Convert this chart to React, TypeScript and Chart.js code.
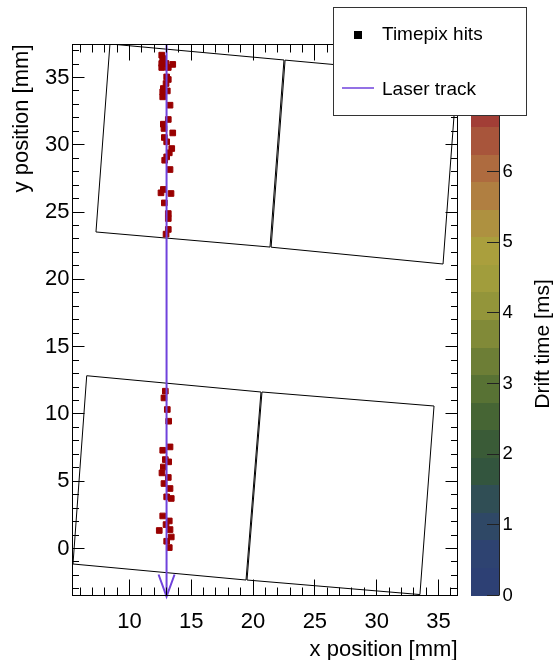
import React, { useEffect, useRef } from 'react';
import { Chart, registerables } from 'chart.js';

Chart.register(...registerables);

// ---- data ----
const xRange = [5.39, 36.54];
const yRange = [-3.49, 37.45];
const driftRange = [0, 7.8];

const xTicks = [10, 15, 20, 25, 30, 35];
const yTicks = [0, 5, 10, 15, 20, 25, 30, 35];
const driftTicks = [0, 1, 2, 3, 4, 5, 6, 7];

const hitX = [
  12.61, 12.69, 12.61, 12.96, 13.5, 12.61, 13.14, 13.01, 13.14, 12.96,
  12.74, 13.06, 12.69, 12.69, 13.28, 13.14, 12.74, 12.79, 13.5, 12.82,
  13.01, 13.42, 13.22, 13.01, 12.85, 13.28, 12.74, 12.55, 13.36, 12.82,
  13.14, 13.14, 13.14, 12.96,
  12.9, 12.79, 13.06, 13.17, 13.28, 12.69, 12.9, 13.17, 12.74, 12.63,
  13.14, 12.79, 13.28, 13.01, 13.38, 12.69, 13.22, 12.96, 12.41, 13.28,
  13.38, 13.01, 13.22,
];
const hitY = [
  36.66, 36.41, 36.04, 36.04, 35.97, 35.74, 35.74, 35.04, 34.85, 34.55,
  34.18, 34.0, 33.93, 33.56, 32.94, 31.88, 31.53, 31.21, 30.88, 30.54,
  30.22, 29.72, 29.4, 29.1, 28.85, 28.16, 26.68, 26.43, 26.38, 25.68,
  24.89, 24.52, 23.71, 23.36,
  11.69, 11.19, 10.33, 9.46, 7.55, 7.3, 6.61, 6.44, 6.06, 5.62,
  5.28, 4.83, 4.46, 3.84, 3.72, 2.42, 2.05, 1.78, 1.34, 1.41,
  0.86, 0.54, 0.07,
];

const laserX = [13.0, 13.0];
const laserY = [37.45, -3.49];

const chipTopLeftX = [7.29, 21.37, 22.5, 8.42, 7.29];
const chipTopLeftY = [23.52, 22.4, 36.3, 37.49, 23.52];
const chipTopRightX = [21.46, 35.37, 36.5, 22.59, 21.46];
const chipTopRightY = [22.39, 21.14, 35.13, 36.29, 22.39];
const chipBottomLeftX = [5.43, 19.43, 20.64, 6.54, 5.43];
const chipBottomLeftY = [-1.15, -2.34, 11.63, 12.84, -1.15];
const chipBottomRightX = [19.51, 33.5, 34.64, 20.72, 19.51];
const chipBottomRightY = [-2.34, -3.42, 10.59, 11.63, -2.34];

const paletteColors = [
  '#2d4074', '#2e4371', '#2f4866', '#304e55', '#33553e',
  '#3a5b37', '#466534', '#587234', '#6d7e36', '#818a38',
  '#93953a', '#a19d3c', '#aa9f3d', '#ae9140', '#b07f41',
  '#ae6b3f', '#a8553b', '#a23e36', '#9c2c31', '#95182a',
];

// ---- style ----
const FONT = "'Liberation Sans', Arial, Helvetica, sans-serif";
const laserColor = '#6f42dc';
const hitColor = '#990000';

const pts = (xs: number[], ys: number[]) => xs.map((x, i) => ({ x, y: ys[i] }));

const setTicks = (vals: number[]) => (scale: any) => {
  scale.ticks = vals.map((v) => ({ value: v }));
};

const fixSize = (w: number | null, h: number | null) => (s: any) => {
  if (w !== null) s.width = w;
  if (h !== null) s.height = h;
  s.paddingTop = 0;
  s.paddingBottom = 0;
  s.paddingLeft = 0;
  s.paddingRight = 0;
};

const rootPlugin = {
  id: 'rootStyle',
  afterDatasetsDraw(chart: any) {
    const { ctx, chartArea: a, scales } = chart;
    const xs = scales.x;
    const ys = scales.y;
    ctx.save();
    // arrow head of laser track
    const meta = chart.getDatasetMeta(0);
    const tip = meta.data[meta.data.length - 1];
    ctx.strokeStyle = laserColor;
    ctx.lineWidth = 2;
    ctx.beginPath();
    ctx.moveTo(tip.x - 8, tip.y - 21);
    ctx.lineTo(tip.x, tip.y + 1);
    ctx.lineTo(tip.x + 8, tip.y - 21);
    ctx.stroke();

    // ticks on all sides
    ctx.strokeStyle = '#000';
    ctx.lineWidth = 1;
    ctx.beginPath();
    for (let v = Math.ceil(xRange[0]); v <= Math.floor(xRange[1]); v++) {
      const p = Math.floor(xs.getPixelForValue(v)) + 0.5;
      const len = v % 5 === 0 ? 16 : 8;
      ctx.moveTo(p, a.bottom);
      ctx.lineTo(p, a.bottom - len);
      ctx.moveTo(p, a.top);
      ctx.lineTo(p, a.top + len);
    }
    for (let v = Math.ceil(yRange[0]); v <= Math.floor(yRange[1]); v++) {
      const p = Math.floor(ys.getPixelForValue(v)) + 0.5;
      const len = v % 5 === 0 ? 12 : 6.5;
      ctx.moveTo(a.left, p);
      ctx.lineTo(a.left + len, p);
      ctx.moveTo(a.right, p);
      ctx.lineTo(a.right - len, p);
    }
    ctx.stroke();
    // frame
    ctx.strokeRect(a.left, a.top, a.right - a.left, a.bottom - a.top);
    ctx.restore();
  },
  afterDraw(chart: any) {
    const { ctx, scales } = chart;
    const zs = scales.z;
    ctx.save();
    // colour bar
    const cx0 = 471;
    const cx1 = 499;
    const n = paletteColors.length;
    const step = (driftRange[1] - driftRange[0]) / n;
    for (let i = 0; i < n; i++) {
      const yb = zs.getPixelForValue(driftRange[0] + i * step);
      const yt = zs.getPixelForValue(driftRange[0] + (i + 1) * step);
      ctx.fillStyle = paletteColors[i];
      ctx.fillRect(cx0, Math.round(yt), cx1 - cx0, Math.round(yb) - Math.round(yt));
    }
    ctx.strokeStyle = '#222';
    ctx.lineWidth = 1;
    ctx.beginPath();
    ctx.moveTo(cx1 + 0.5, zs.top);
    ctx.lineTo(cx1 + 0.5, zs.bottom);
    for (const v of driftTicks) {
      const p = Math.floor(zs.getPixelForValue(v)) + 0.5;
      ctx.moveTo(cx1, p);
      ctx.lineTo(cx1 - 12, p);
    }
    ctx.stroke();
    // colour bar title
    ctx.fillStyle = '#000';
    ctx.font = `21px ${FONT}`;
    ctx.textAlign = 'center';
    ctx.textBaseline = 'middle';
    ctx.translate(543, 344);
    ctx.rotate(-Math.PI / 2);
    ctx.fillText('Drift time [ms]', 0, 0);
    ctx.setTransform(1, 0, 0, 1, 0, 0);

    // legend
    const lx = 333.5, ly = 7.5, lw = 193, lh = 108;
    ctx.fillStyle = '#fff';
    ctx.fillRect(lx, ly, lw, lh);
    ctx.strokeStyle = '#333';
    ctx.lineWidth = 1;
    ctx.strokeRect(lx, ly, lw, lh);
    const dsHits = chart.data.datasets[1];
    const dsLaser = chart.data.datasets[0];
    ctx.fillStyle = '#000';
    ctx.fillRect(354, 31, 8, 8);
    ctx.strokeStyle = laserColor;
    ctx.lineWidth = 1.5;
    ctx.beginPath();
    ctx.moveTo(342, 88);
    ctx.lineTo(374, 88);
    ctx.stroke();
    ctx.fillStyle = '#000';
    ctx.font = `19px ${FONT}`;
    ctx.textAlign = 'left';
    ctx.textBaseline = 'alphabetic';
    ctx.fillText(dsHits.label, 382, 40);
    ctx.fillText(dsLaser.label, 382, 95);
    ctx.restore();
  },
};

export default function App() {
  const ref = useRef<HTMLCanvasElement | null>(null);
  useEffect(() => {
    if (!ref.current) return;
    const chipStyle = {
      showLine: true,
      borderColor: '#000',
      borderWidth: 1,
      pointRadius: 0,
      fill: false,
      tension: 0,
      clip: 0,
      order: 2,
    };
    const axisFont = { family: FONT, size: 22 };
    const chart = new Chart(ref.current, {
      type: 'scatter',
      data: {
        datasets: [
          {
            label: 'Laser track',
            data: pts(laserX, laserY),
            showLine: true,
            borderColor: laserColor,
            backgroundColor: laserColor,
            borderWidth: 2,
            pointRadius: 0,
            order: 0,
          } as any,
          {
            label: 'Timepix hits',
            data: pts(hitX, hitY),
            pointStyle: 'rect',
            pointRadius: 4,
            borderWidth: 1,
            backgroundColor: hitColor,
            borderColor: hitColor,
            order: 1,
          } as any,
          { label: 'chip1', data: pts(chipTopLeftX, chipTopLeftY), ...chipStyle } as any,
          { label: 'chip2', data: pts(chipTopRightX, chipTopRightY), ...chipStyle } as any,
          { label: 'chip3', data: pts(chipBottomLeftX, chipBottomLeftY), ...chipStyle } as any,
          { label: 'chip4', data: pts(chipBottomRightX, chipBottomRightY), ...chipStyle } as any,
        ],
      },
      options: {
        animation: false,
        responsive: true,
        maintainAspectRatio: false,
        events: [],
        layout: { padding: { top: 44.5, left: 0, right: 0, bottom: 0 } },
        plugins: { legend: { display: false }, tooltip: { enabled: false } },
        scales: {
          x: {
            type: 'linear',
            position: 'bottom',
            min: xRange[0],
            max: xRange[1],
            afterBuildTicks: setTicks(xTicks),
            afterFit: fixSize(null, 64.5),
            grid: { display: false, drawTicks: false },
            border: { display: false },
            ticks: { font: axisFont, color: '#000', padding: 13, maxRotation: 0, autoSkip: false },
            title: {
              display: true,
              text: 'x position [mm]',
              align: 'end',
              color: '#000',
              font: axisFont,
              padding: { top: 0, bottom: -3.5 },
            },
          },
          y: {
            type: 'linear',
            position: 'left',
            min: yRange[0],
            max: yRange[1],
            afterBuildTicks: setTicks(yTicks),
            afterFit: fixSize(72.5, null),
            grid: { display: false, drawTicks: false },
            border: { display: false },
            ticks: { font: axisFont, color: '#000', padding: 3, autoSkip: false },
            title: {
              display: true,
              text: 'y position [mm]',
              align: 'end',
              color: '#000',
              font: axisFont,
              padding: { top: 8.4, bottom: 0 },
            },
          },
          z: {
            type: 'linear',
            position: 'right',
            min: driftRange[0],
            max: driftRange[1],
            afterBuildTicks: setTicks(driftTicks),
            afterFit: fixSize(98.5, null),
            grid: { display: false, drawTicks: false },
            border: { display: false },
            ticks: { font: { family: FONT, size: 18.5 }, color: '#000', padding: 45, autoSkip: false },
          },
        },
      } as any,
      plugins: [rootPlugin],
    });
    return () => chart.destroy();
  }, []);
  return (
    <div style={{ position: 'fixed', left: 0, top: 0, width: 556, height: 660, background: '#fff' }}>
      <canvas ref={ref} />
    </div>
  );
}
